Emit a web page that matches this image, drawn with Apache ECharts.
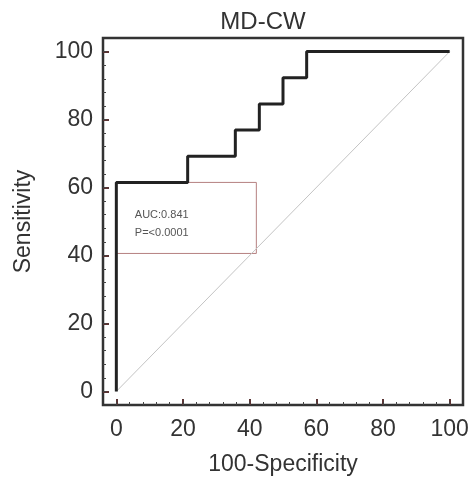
<!DOCTYPE html>
<html>
<head>
<meta charset="utf-8">
<script src="https://cdn.jsdelivr.net/npm/echarts@6/dist/echarts.min.js"></script>
<style>html,body{margin:0;padding:0;background:#fff}#c{width:475px;height:482px}</style>
</head>
<body>
<div id="c"></div>
<script>
var chartTitle = 'MD-CW';
var xName = '100-Specificity';
var yName = 'Sensitivity';
var majorTicks = [0, 20, 40, 60, 80, 100];
var minorTicks = [0, 4, 8, 12, 16, 20, 24, 28, 32, 36, 40, 44, 48, 52, 56, 60, 64, 68, 72, 76, 80, 84, 88, 92, 96, 100];
var rocX = [0, 0, 21.4, 21.4, 35.7, 35.7, 42.9, 42.9, 50, 50, 57.1, 57.1, 100];
var rocY = [0, 61.5, 61.5, 69.2, 69.2, 76.9, 76.9, 84.6, 84.6, 92.3, 92.3, 100, 100];
var diagX = [0, 100];
var diagY = [0, 100];
var boxX = [0, 42];
var boxY = [40.6, 61.5];
var boxText = 'AUC:0.841\nP=<0.0001';

var rocData = rocX.map(function (x, i) { return [x, rocY[i]]; });
var diagData = diagX.map(function (x, i) { return [x, diagY[i]]; });
var txt = '#333';
var font = 'Liberation Sans, Arial, sans-serif';

function mkAxis(isX, major) {
  return {
    type: 'value', min: -4, max: 104,
    position: isX ? 'bottom' : 'left',
    name: major ? (isX ? xName : yName) : '',
    nameLocation: 'middle',
    nameGap: isX ? 48 : 68,
    nameTextStyle: { color: txt, fontSize: 23, fontFamily: font },
    axisLine: { show: major, onZero: false, lineStyle: { color: '#333', width: 2 } },
    axisTick: { show: true, inside: true, length: major ? 6 : 3,
      customValues: major ? majorTicks : minorTicks,
      lineStyle: { color: major ? '#5a3535' : '#444', width: major ? 2 : 1 } },
    axisLabel: { show: major, customValues: majorTicks, color: txt, fontSize: 23, fontFamily: font, margin: isX ? 13 : 10 },
    splitLine: { show: false }
  };
}

var chart = echarts.init(document.getElementById('c'));
chart.setOption({
  animation: false,
  backgroundColor: '#fff',
  title: { text: chartTitle, left: 258, top: 5, textAlign: 'center',
    textStyle: { color: txt, fontSize: 24, fontWeight: 'normal', fontFamily: font } },
  grid: { left: 103, right: 12, top: 38, bottom: 77, show: true, borderColor: '#333', borderWidth: 2.5 },
  xAxis: [mkAxis(true, true), mkAxis(true, false)],
  yAxis: [mkAxis(false, true), mkAxis(false, false)],
  series: [
    { type: 'line', data: diagData, symbol: 'none', lineStyle: { color: '#c4c4c4', width: 1 }, z: 1,
      markArea: { silent: true,
        itemStyle: { color: 'rgba(0,0,0,0)', borderColor: '#b58080', borderWidth: 1 },
        label: { show: true, position: 'insideLeft', distance: 19, color: '#555', fontSize: 11, lineHeight: 18, fontFamily: font, offset: [0, 6] },
        data: [[{ coord: [boxX[0], boxY[1]], name: boxText }, { coord: [boxX[1], boxY[0]] }]] } },
    { type: 'line', data: rocData, symbol: 'none', lineStyle: { color: '#222', width: 3 }, z: 3 }
  ]
});
</script>
</body>
</html>
